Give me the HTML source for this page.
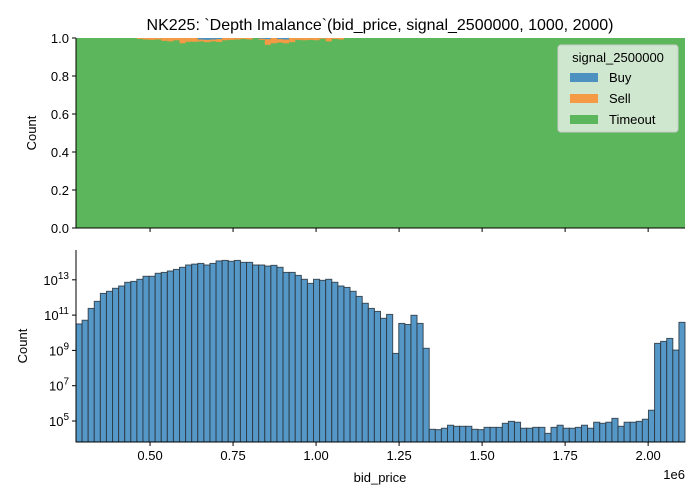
<!DOCTYPE html>
<html><head><meta charset="utf-8"><style>
html,body{margin:0;padding:0;background:#fff}
svg{display:block;font-family:"Liberation Sans","DejaVu Sans",sans-serif}
</style></head><body>
<svg id="chart" width="700" height="500" xmlns="http://www.w3.org/2000/svg">
<rect width="700" height="500" fill="#fff"/>
<text x="380" y="30" text-anchor="middle" font-size="16" fill="#000">NK225: `Depth Imalance`(bid_price, signal_2500000, 1000, 2000)</text>
<g id="topPanel"></g>
<g id="botPanel"></g>
<g id="legend">
<rect x="558" y="45" width="120" height="87" rx="3" fill="#e3efe3" fill-opacity="0.85" stroke="#ccc"/>
<text x="618" y="62" text-anchor="middle" font-size="13">signal_2500000</text>
<rect x="570" y="73" width="28" height="9" fill="#4c91c0"/>
<text x="609" y="82" font-size="13">Buy</text>
<rect x="570" y="94" width="28" height="9" fill="#f59a45"/>
<text x="609" y="103" font-size="13">Sell</text>
<rect x="570" y="115" width="28" height="9" fill="#5cb65c"/>
<text x="609" y="124" font-size="13">Timeout</text>
</g>
</svg>
<script>
const xTicks = [0.5, 0.75, 1.0, 1.25, 1.5, 1.75, 2.0];
const xTickLabels = ["0.50","0.75","1.00","1.25","1.50","1.75","2.00"];
const topYTicks = [0, 0.2, 0.4, 0.6, 0.8, 1.0];
const topYTickLabels = ["0.0","0.2","0.4","0.6","0.8","1.0"];
const logTicks = [5, 7, 9, 11, 13];
const binStart = 0.277;
const binEnd = 2.111;
const logCounts = [10.50,10.71,11.38,11.78,12.23,12.35,12.52,12.65,12.86,12.91,
13.03,13.20,13.20,13.37,13.42,13.50,13.59,13.71,13.84,13.89,
13.93,13.84,13.93,14.07,14.10,14.05,14.10,13.99,13.99,13.84,
13.84,13.78,13.82,13.71,13.42,13.42,13.25,13.03,12.80,13.03,
12.97,13.03,12.86,12.65,12.57,12.35,12.06,11.67,11.38,11.21,
10.82,11.04,8.83,10.53,10.47,10.99,10.53,9.12,4.53,4.51,
4.59,4.76,4.70,4.70,4.70,4.53,4.51,4.64,4.64,4.64,
4.87,4.98,4.93,4.59,4.59,4.64,4.64,4.30,4.64,4.76,
4.59,4.59,4.64,4.76,4.59,4.93,4.87,4.93,5.15,4.70,
4.93,4.93,4.98,5.10,5.61,9.40,9.51,9.68,9.02,10.59];
const sellFrac = [0,0,0,0,0,0,0,0,0,0,
0.005,0.008,0.010,0.008,0.015,0.018,0.012,0.028,0.020,0.020,
0.010,0.012,0.010,0.015,0.012,0.010,0.008,0.005,0.008,0.000,
0.006,0.030,0.028,0.018,0.020,0.022,0.010,0.012,0.010,0.012,
0.004,0.018,0.005,0.008,0,0,0,0,0,0,
0,0,0,0,0,0,0,0,0,0,0,0,0,0,0,0,0,0,0,0,
0,0,0,0,0,0,0,0,0,0,0,0,0,0,0,0,0,0,0,0,
0,0,0,0,0,0,0,0,0,0];
const buyFrac = [0,0,0,0,0,0,0,0,0,0,
0,0,0,0,0,0,0,0,0,0,
0.008,0.010,0.008,0.006,0,0,0,0,0,0,
0.004,0.006,0,0.006,0.008,0,0,0,0,0,
0,0,0,0,0,0,0,0,0,0,
0,0,0,0,0,0,0,0,0,0,0,0,0,0,0,0,0,0,0,0,
0,0,0,0,0,0,0,0,0,0,0,0,0,0,0,0,0,0,0,0,
0,0,0,0,0,0,0,0,0,0];

const NS="http://www.w3.org/2000/svg";
const X0=76, X1=685;
const xs = v => X0 + (v-binStart)/(binEnd-binStart)*(X1-X0);
const TY0=228, TY1=38;
const ty = v => TY0 - v*(TY0-TY1);
const BY0=442, BY1=250;
const logMin=3.81, logMax=14.69;
const by = v => BY0 - (v-logMin)/(logMax-logMin)*(BY0-BY1);
function mk(tag, attrs, parent){const e=document.createElementNS(NS,tag);for(const k in attrs)e.setAttribute(k,attrs[k]);parent.appendChild(e);return e;}
const topG=document.getElementById('topPanel'), botG=document.getElementById('botPanel');
const n=logCounts.length, bw=(binEnd-binStart)/n;

// top panel
const bg=mk('rect',{x:X0,y:TY1,width:X1-X0,height:TY0-TY1,fill:'#5cb65c'},topG);


for(let i=0;i<n;i++){
  const xa=xs(binStart+i*bw), xb=xs(binStart+(i+1)*bw);
  if(buyFrac[i]>0){
    const r=mk('rect',{x:xa,y:ty(1),width:xb-xa,height:ty(1-buyFrac[i])-ty(1),fill:'#4c91c0'},topG);
    
    
  }
  if(sellFrac[i]>0){
    const r=mk('rect',{x:xa,y:ty(1-buyFrac[i]),width:xb-xa,height:ty(1-buyFrac[i]-sellFrac[i])-ty(1-buyFrac[i]),fill:'#f59a45'},topG);
    
    
  }
}
mk('line',{x1:X0,y1:TY1,x2:X0,y2:TY0,stroke:'#000','stroke-width':1},topG);
mk('line',{x1:X0,y1:TY0,x2:X1,y2:TY0,stroke:'#000','stroke-width':1},topG);
topYTicks.forEach((t,i)=>{
  const y=ty(t);
  mk('line',{x1:X0-4,y1:y,x2:X0,y2:y,stroke:'#000'},topG);
  const tx=mk('text',{x:X0-7,y:y+5,'text-anchor':'end','font-size':13},topG);
  tx.textContent=topYTickLabels[i];
  
  
});
xTicks.forEach(t=>{const x=xs(t);mk('line',{x1:x,y1:TY0,x2:x,y2:TY0+4,stroke:'#000'},topG);});
const tyl=mk('text',{x:36,y:133,'text-anchor':'middle','font-size':13,transform:'rotate(-90 36 133)'},topG);
tyl.textContent='Count';



// bottom panel
for(let i=0;i<n;i++){
  const xa=xs(binStart+i*bw), xb=xs(binStart+(i+1)*bw);
  const y=by(logCounts[i]);
  const r=mk('rect',{x:xa,y:y,width:xb-xa,height:BY0-y,fill:'#5597c6',stroke:'#2a3640','stroke-width':1,'stroke-opacity':0.85},botG);
  
  
}
mk('line',{x1:X0,y1:BY1,x2:X0,y2:BY0,stroke:'#000'},botG);
mk('line',{x1:X0,y1:BY0,x2:X1,y2:BY0,stroke:'#000'},botG);
logTicks.forEach(t=>{
  const y=by(t);
  mk('line',{x1:X0-4,y1:y,x2:X0,y2:y,stroke:'#000'},botG);
  const tx=mk('text',{x:X0-7,y:y+5,'text-anchor':'end','font-size':13},botG);
  tx.textContent='10';
  const sup=mk('tspan',{dy:-6,'font-size':10},tx);
  sup.textContent=String(t);
  
  
});
xTicks.forEach((t,i)=>{
  const x=xs(t);
  mk('line',{x1:x,y1:BY0,x2:x,y2:BY0+4,stroke:'#000'},botG);
  const tx=mk('text',{x:x,y:BY0+18,'text-anchor':'middle','font-size':13},botG);
  tx.textContent=xTickLabels[i];
  
  
});
const off=mk('text',{x:685,y:479,'text-anchor':'end','font-size':13},botG);
off.textContent='1e6';


const xl=mk('text',{x:380,y:482,'text-anchor':'middle','font-size':13},botG);
xl.textContent='bid_price';


const byl=mk('text',{x:27,y:346,'text-anchor':'middle','font-size':13,transform:'rotate(-90 27 346)'},botG);
byl.textContent='Count';


document.getElementById('chart').appendChild(document.getElementById('legend'));
</script>
</body></html>
